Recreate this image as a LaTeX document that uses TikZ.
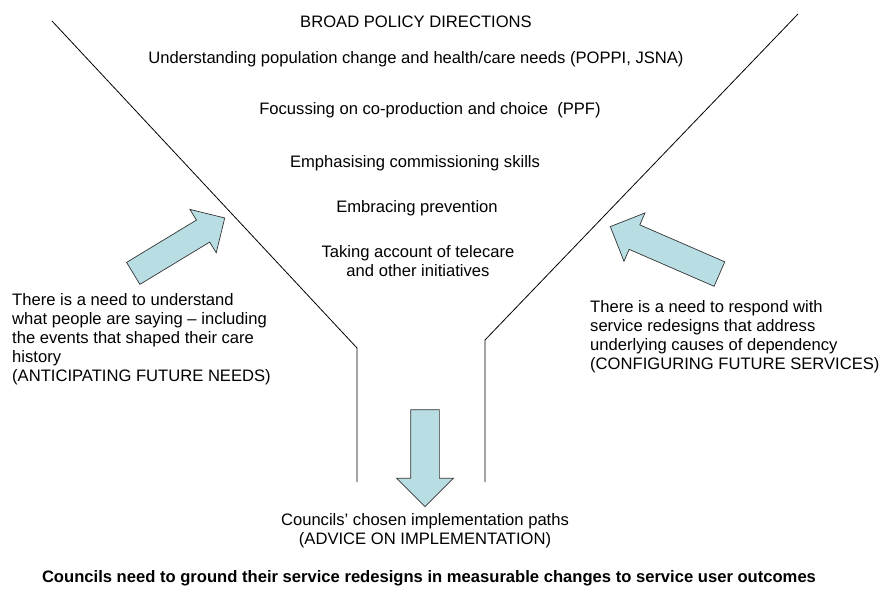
\documentclass[tikz,border=0pt]{standalone}
\usepackage{fontspec}
\setmainfont{Liberation Sans}
\usetikzlibrary{shapes.arrows}
\definecolor{arrfill}{RGB}{184,222,227}

\begin{document}
\begin{tikzpicture} [x=1pt, y=1pt,
                     txt/.style= {font=\fontsize{16.6}{19}\selectfont,
                                  inner sep=0, align=center},
                     blockarr/.style= {shape=single arrow, draw=black!80,
                                       fill=arrfill, line width=0.7pt,
                                       inner xsep=0, inner ysep=12.5,
                                       minimum width=50,
                                       single arrow head extend=12.5,
                                       single arrow tip angle=90},
                     funnel/.style= {line width=0.8pt, black}]
\useasboundingbox (0,0) rectangle (887,-589);

\coordinate (ltop) at (52,-21);
\coordinate (lbend) at (357,-348);
\coordinate (lbot) at (357,-482);
\coordinate (rtop) at (798,-14);
\coordinate (rbend) at (485,-340);
\coordinate (rbot) at (485,-482);
\draw[funnel] (ltop) -- (lbend) -- (lbot);
\draw[funnel] (rtop) -- (rbend) -- (rbot);

\node[txt] (broad) at (416,-22) {BROAD POLICY DIRECTIONS};
\foreach \n/\x/\y/\t in {popn/416/59/{Understanding population change and health/care needs (POPPI, JSNA)},
                         copro/430/110/{Focussing on co-production and choice \ (PPF)},
                         comm/415/163/{Emphasising commissioning skills},
                         prev/417/208/{Embracing prevention},
                         tele/418/261/{Taking account of telecare\\and other initiatives}}{%
    \node[txt] (\n) at (\x,-\y) {\t};}

\node[blockarr, minimum height=107, rotate=31.2] (arrL) at (173.5,-249) {};
\node[blockarr, minimum height=119, rotate=156.5, inner ysep=13,
      minimum width=52, single arrow head extend=13] (arrR) at (671,-253) {};
\node[blockarr, minimum height=97, rotate=-90, inner ysep=14,
      minimum width=56, single arrow head extend=14] (arrD) at (425,-451) {};

\node[txt, align=left, anchor=north west] (needL) at (12,-293)
    {There is a need to understand\\what people are saying -- including\\the events that shaped their care\\history\\(ANTICIPATING FUTURE NEEDS)};
\node[txt, align=left, anchor=north west] (needR) at (590,-300)
    {There is a need to respond with\\service redesigns that address\\underlying causes of dependency\\(CONFIGURING FUTURE SERVICES)};
\node[txt, anchor=north] (paths) at (425,-513)
    {Councils’ chosen implementation paths\\(ADVICE ON IMPLEMENTATION)};
\node[txt, font=\fontsize{16.6}{19}\selectfont\bfseries] (ground) at (429,-578)
    {Councils need to ground their service redesigns in measurable changes to service user outcomes};
\end{tikzpicture}
\end{document}
